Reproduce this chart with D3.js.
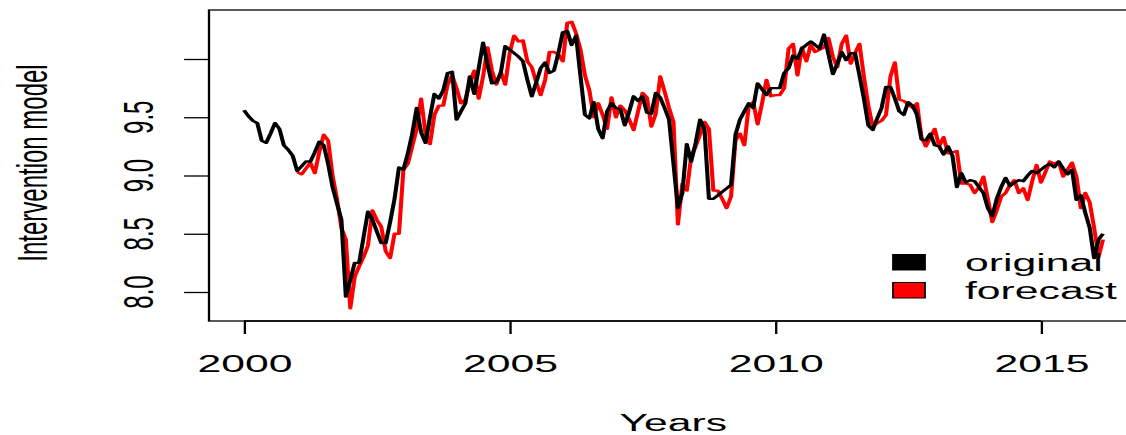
<!DOCTYPE html>
<html>
<head>
<meta charset="utf-8">
<script src="https://cdn.jsdelivr.net/npm/d3@7"></script>
<style>
  html, body { margin: 0; padding: 0; background: #fff; }
  svg { display: block; }
  text { font-family: "Liberation Sans", Arial, Helvetica, sans-serif; fill: #000; }
</style>
</head>
<body>
<svg id="chart" width="1126" height="435"></svg>
<script>
// Monthly series, first value at January 2000
const startYear = 2000;
const original = [
  9.56, 9.51, 9.47, 9.45, 9.30, 9.28, 9.36, 9.45, 9.40, 9.26,
  9.22, 9.17, 9.04, 9.08, 9.12, 9.12, 9.20, 9.29, 9.26, 9.10,
  8.90, 8.76, 8.62, 7.96, 8.10, 8.25, 8.25, 8.47, 8.69, 8.62,
  8.52, 8.42, 8.42, 8.60, 8.80, 9.07, 9.05, 9.19, 9.36, 9.58,
  9.37, 9.28, 9.50, 9.70, 9.66, 9.73, 9.88, 9.89, 9.48, 9.55,
  9.62, 9.85, 9.70, 9.92, 10.14, 9.95, 9.79, 9.80, 9.88, 10.11,
  10.08, 10.05, 10.02, 9.98, 9.82, 9.68, 9.80, 9.92, 9.97, 9.88,
  9.90, 10.05, 10.23, 10.24, 10.12, 10.20, 9.85, 9.52, 9.49, 9.63,
  9.40, 9.32, 9.55, 9.62, 9.58, 9.57, 9.43, 9.55, 9.68, 9.64,
  9.68, 9.54, 9.53, 9.71, 9.67, 9.58, 9.48, 9.10, 8.72, 8.85,
  9.27, 9.12, 9.28, 9.48, 9.40, 8.80, 8.80, 8.83, 8.86, 8.89,
  8.92, 9.35, 9.48, 9.55, 9.62, 9.58, 9.79, 9.74, 9.69, 9.75,
  9.75, 9.75, 9.88, 9.92, 10.03, 10.00, 10.09, 10.12, 10.15, 10.12,
  10.09, 10.21, 10.04, 9.87, 9.96, 10.06, 9.99, 10.05, 10.05, 9.86,
  9.66, 9.43, 9.39, 9.49, 9.58, 9.76, 9.76, 9.66, 9.55, 9.52,
  9.63, 9.60, 9.52, 9.31, 9.30, 9.36, 9.26, 9.25, 9.18, 9.25,
  9.17, 8.90, 9.02, 8.94, 8.96, 8.95, 8.90, 8.85, 8.72, 8.65,
  8.80, 8.90, 8.98, 8.91, 8.94, 8.96, 8.95, 9.00, 9.04, 9.02,
  9.05, 9.08, 9.10, 9.07, 9.12, 9.06, 9.01, 9.05, 8.79, 8.83,
  8.68, 8.55, 8.29, 8.45, 8.50
];

// One-step forecasts, first value at January 2001 (month index 12)
const forecastStartMonth = 12;
const forecast = [
  9.03, 9.01, 9.06, 9.11, 9.02, 9.20, 9.35, 9.30, 9.00, 8.80,
  8.55, 8.45, 7.86, 8.13, 8.22, 8.30, 8.40, 8.70, 8.62, 8.56,
  8.35, 8.29, 8.50, 8.50, 9.05, 9.10, 9.25, 9.40, 9.66, 9.36,
  9.27, 9.52, 9.60, 9.60, 9.78, 9.86, 9.75, 9.62, 9.65, 9.80,
  9.90, 9.66, 9.85, 10.10, 9.90, 9.78, 9.89, 9.78, 10.05, 10.20,
  10.15, 10.16, 9.98, 9.93, 9.80, 9.69, 9.82, 10.06, 10.06, 10.04,
  9.98, 10.31, 10.32, 10.22, 10.08, 9.86, 9.73, 9.50, 9.62, 9.52,
  9.40, 9.67, 9.50, 9.60, 9.56, 9.48, 9.39, 9.55, 9.71, 9.67,
  9.42, 9.53, 9.85, 9.72, 9.58, 9.46, 8.58, 8.93, 8.87, 9.16,
  9.25, 9.35, 9.46, 9.40, 8.87, 8.87, 8.80, 8.72, 8.82, 9.30,
  9.36, 9.26, 9.60, 9.63, 9.44, 9.62, 9.82, 9.68, 9.69, 9.69,
  9.75, 10.09, 10.13, 9.86, 10.10, 9.98, 10.12, 10.06, 10.08, 10.10,
  10.18, 10.02, 9.93, 10.13, 10.20, 9.96, 10.05, 10.13, 9.85, 9.60,
  9.42, 9.45, 9.47, 9.52, 9.85, 9.97, 9.65, 9.64, 9.61, 9.58,
  9.62, 9.33, 9.25, 9.33, 9.40, 9.25, 9.33, 9.19, 9.20, 9.21,
  8.93, 8.93, 8.92, 8.85, 8.90, 8.99, 8.80, 8.60, 8.70, 8.82,
  8.85, 8.92, 8.96, 8.85, 8.89, 8.79, 8.95, 9.09, 8.94, 9.03,
  9.12, 9.10, 9.12, 8.99, 9.05, 9.11, 8.99, 8.72, 8.85, 8.77,
  8.55, 8.30, 8.45
];

const xTicks = [2000, 2005, 2010, 2015];
const xTickLabels = ["2000", "2005", "2010", "2015"];
const yTicks = [8.0, 8.5, 9.0, 9.5, 10.0];
const yTickLabels = ["8.0", "8.5", "9.0", "9.5", ""];
const legendLabels = ["original", "forecast"];
const seriesColors = ["#000000", "#ff0000"];

// The figure is laid out in a narrower frame and stretched horizontally.
const stretch = 1.78;
const box = { left: 209 / stretch, right: 1130 / stretch, top: 10, bottom: 321 };

const x = d3.scaleLinear().domain([2000, 2015]).range([244 / stretch, 1041 / stretch]);
const y = d3.scaleLinear().domain([8, 10]).range([292, 59]);

const svg = d3.select("#chart");
const g = svg.append("g").attr("transform", `scale(${stretch},1)`);

const toPoints = (vals, offset) => vals.map((v, i) => ({ t: startYear + (offset + i) / 12, v }));
const line = d3.line().x(d => x(d.t)).y(d => y(d.v));

// Series: forecast underneath, original on top
g.append("path")
  .datum(toPoints(forecast, forecastStartMonth))
  .attr("d", line)
  .attr("fill", "none")
  .attr("stroke", seriesColors[1])
  .attr("stroke-width", 2.3)
  .attr("stroke-linejoin", "round");

g.append("path")
  .datum(toPoints(original, 0))
  .attr("d", line)
  .attr("fill", "none")
  .attr("stroke", seriesColors[0])
  .attr("stroke-width", 2.3)
  .attr("stroke-linejoin", "round");

// Plot frame
g.append("rect")
  .attr("x", box.left).attr("y", box.top)
  .attr("width", box.right - box.left).attr("height", box.bottom - box.top)
  .attr("fill", "none").attr("stroke", "#000").attr("stroke-width", 1.3);

// Bottom axis
const xAxis = g.append("g").attr("transform", `translate(0,${box.bottom})`)
  .call(d3.axisBottom(x).tickValues(xTicks).tickFormat((d, i) => xTickLabels[i])
    .tickSize(13).tickSizeOuter(0).tickPadding(0));
xAxis.select(".domain").attr("stroke", "#000").attr("stroke-width", 1.3)
  .attr("d", `M${x(xTicks[0])},0H${x(xTicks[xTicks.length - 1])}`);
xAxis.selectAll(".tick line").attr("stroke", "#000").attr("stroke-width", 1.3);
xAxis.selectAll(".tick text")
  .attr("y", 51).attr("dy", null)
  .style("font-size", "24px").style("font-family", "'Liberation Sans', Arial, sans-serif")
  .attr("fill", "#000");

// Left axis
const yAxis = g.append("g").attr("transform", `translate(${box.left},0)`)
  .call(d3.axisLeft(y).tickValues(yTicks).tickFormat(() => "").tickSize(14).tickSizeOuter(0));
yAxis.select(".domain").remove();
yAxis.selectAll(".tick line").attr("stroke", "#000").attr("stroke-width", 1.3);

g.append("g").selectAll("text")
  .data(yTicks)
  .join("text")
  .attr("transform", d => `translate(${153 / stretch},${y(d)}) rotate(-90)`)
  .attr("text-anchor", "middle")
  .style("font-size", "24px")
  .text((d, i) => yTickLabels[i]);

// Axis titles
g.append("text")
  .attr("x", x(2008.08)).attr("y", 431)
  .attr("text-anchor", "middle")
  .style("font-size", "24px")
  .text("Years");

g.append("text")
  .attr("transform", `translate(${47 / stretch},${163}) rotate(-90)`)
  .attr("text-anchor", "middle")
  .style("font-size", "24px")
  .text("Intervention model");

// Legend
const legend = g.append("g");
const legendRows = [254.5, 282.5];
legend.selectAll("rect")
  .data(legendLabels)
  .join("rect")
  .attr("x", 893 / stretch).attr("y", (d, i) => legendRows[i])
  .attr("width", 32 / stretch).attr("height", 15.5)
  .attr("fill", (d, i) => seriesColors[i])
  .attr("stroke", "#000").attr("stroke-width", 1);
legend.selectAll("text")
  .data(legendLabels)
  .join("text")
  .attr("x", 965 / stretch).attr("y", (d, i) => legendRows[i] + 17)
  .style("font-size", "24px")
  .text(d => d);
</script>
</body>
</html>
